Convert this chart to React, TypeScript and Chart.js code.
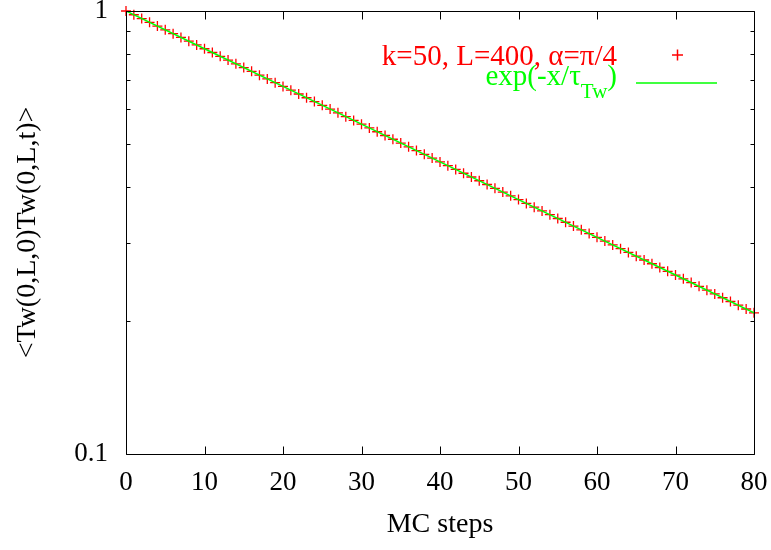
import React, { useEffect, useRef } from 'react';
import { Chart, registerables } from 'chart.js';

Chart.register(...registerables);

// ---- data ----
const mcSteps = [
  0, 1, 2, 3, 4, 5, 6, 7, 8, 9, 10, 11, 12, 13, 14, 15, 16, 17, 18, 19, 20,
  21, 22, 23, 24, 25, 26, 27, 28, 29, 30, 31, 32, 33, 34, 35, 36, 37, 38, 39, 40,
  41, 42, 43, 44, 45, 46, 47, 48, 49, 50, 51, 52, 53, 54, 55, 56, 57, 58, 59, 60,
  61, 62, 63, 64, 65, 66, 67, 68, 69, 70, 71, 72, 73, 74, 75, 76, 77, 78, 79, 80,
];
const correlation = [
  1.0, 0.9806, 0.9616, 0.9429, 0.9246, 0.9066, 0.889, 0.8717, 0.8548, 0.8382, 0.8219,
  0.806, 0.7903, 0.775, 0.7599, 0.7452, 0.7307, 0.7165, 0.7026, 0.689, 0.6756,
  0.6625, 0.6496, 0.637, 0.6246, 0.6125, 0.6006, 0.5889, 0.5775, 0.5663, 0.5553,
  0.5445, 0.5339, 0.5236, 0.5134, 0.5034, 0.4937, 0.4841, 0.4747, 0.4655, 0.4564,
  0.4476, 0.4389, 0.4303, 0.422, 0.4138, 0.4058, 0.3979, 0.3902, 0.3826, 0.3752,
  0.3679, 0.3607, 0.3537, 0.3469, 0.3401, 0.3335, 0.327, 0.3207, 0.3145, 0.3084,
  0.3024, 0.2965, 0.2907, 0.2851, 0.2796, 0.2741, 0.2688, 0.2636, 0.2585, 0.2535,
  0.2485, 0.2437, 0.239, 0.2343, 0.2298, 0.2253, 0.2209, 0.2167, 0.2125, 0.2083,
];
const fitSteps = [0, 10, 20, 30, 40, 50, 60, 70, 80];
const fitValues = [1.0, 0.8219, 0.6756, 0.5553, 0.4564, 0.3752, 0.3084, 0.2535, 0.2083];

const xTickValues = [0, 10, 20, 30, 40, 50, 60, 70, 80];
const yTickValues = [0.1, 0.2, 0.3, 0.4, 0.5, 0.6, 0.7, 0.8, 0.9, 1];
const yTickLabels = ['0.1', '', '', '', '', '', '', '', '', '1'];
const yMajorTicks = [0.1, 1];

const seriesLabel = 'k=50, L=400, α=π/4';
const fitLabelMain = 'exp(-x/τ';
const fitLabelSub = 'Tw';
const fitLabelEnd = ')';
const xTitle = 'MC steps';
const yTitle = '<Tw(0,L,0)Tw(0,L,t)>';

const RED = '#ff0000';
const GREEN = '#00ff00';
const FONT = '"Liberation Serif", "Times New Roman", serif';
const TICK_FS = 27;
const TITLE_FS = 28;
const LEGEND_FS = 29;
const SUB_FS = 21;

const framePlugin = {
  id: 'frame',
  afterDraw(chart: any) {
    const { ctx, chartArea } = chart;
    const { left, right, top, bottom } = chartArea;
    const xs = chart.scales.x;
    const ys = chart.scales.y;
    const L = Math.round(left) + 0.5;
    const R = Math.round(right) + 0.5;
    const T = Math.round(top) + 0.5;
    const B = Math.round(bottom) + 0.5;
    ctx.save();
    ctx.strokeStyle = '#000';
    ctx.lineWidth = 1;
    ctx.beginPath();
    ctx.moveTo(L, T);
    ctx.lineTo(R, T);
    ctx.lineTo(R, B);
    ctx.lineTo(L, B);
    ctx.closePath();
    ctx.stroke();
    ctx.beginPath();
    xTickValues.forEach((v) => {
      const px = Math.round(xs.getPixelForValue(v)) + 0.5;
      ctx.moveTo(px, B);
      ctx.lineTo(px, B - 8);
      ctx.moveTo(px, T);
      ctx.lineTo(px, T + 8);
    });
    yTickValues.forEach((v) => {
      const py = Math.round(ys.getPixelForValue(v)) + 0.5;
      const len = yMajorTicks.includes(v) ? 8 : 4;
      ctx.moveTo(L, py);
      ctx.lineTo(L + len, py);
      ctx.moveTo(R, py);
      ctx.lineTo(R - len, py);
    });
    ctx.stroke();

    // legend
    const textRight = 617;
    ctx.font = `${LEGEND_FS}px ${FONT}`;
    ctx.textAlign = 'right';
    ctx.textBaseline = 'alphabetic';
    ctx.fillStyle = RED;
    ctx.fillText(seriesLabel, textRight, 65);
    ctx.strokeStyle = RED;
    ctx.lineWidth = 1.5;
    ctx.beginPath();
    ctx.moveTo(672, 55);
    ctx.lineTo(683, 55);
    ctx.moveTo(677.5, 49.5);
    ctx.lineTo(677.5, 60.5);
    ctx.stroke();

    ctx.textAlign = 'left';
    ctx.font = `${LEGEND_FS}px ${FONT}`;
    const w1 = ctx.measureText(fitLabelMain).width;
    const w3 = ctx.measureText(fitLabelEnd).width;
    ctx.font = `${SUB_FS}px ${FONT}`;
    const w2 = ctx.measureText(fitLabelSub).width;
    const start = textRight - (w1 + w2 + w3);
    ctx.fillStyle = GREEN;
    ctx.font = `${LEGEND_FS}px ${FONT}`;
    ctx.fillText(fitLabelMain, start, 85);
    ctx.font = `${SUB_FS}px ${FONT}`;
    ctx.fillText(fitLabelSub, start + w1, 98);
    ctx.font = `${LEGEND_FS}px ${FONT}`;
    ctx.fillText(fitLabelEnd, start + w1 + w2, 85);
    ctx.strokeStyle = GREEN;
    ctx.lineWidth = 1.5;
    ctx.beginPath();
    ctx.moveTo(636, 83);
    ctx.lineTo(717, 83);
    ctx.stroke();
    ctx.restore();
  },
};

export default function App() {
  const canvasRef = useRef<HTMLCanvasElement | null>(null);

  useEffect(() => {
    const canvas = canvasRef.current;
    if (!canvas) return;
    const chart = new Chart(canvas, {
      type: 'scatter',
      data: {
        datasets: [
          {
            label: seriesLabel,
            data: mcSteps.map((x, i) => ({ x, y: correlation[i] })),
            showLine: false,
            pointStyle: 'cross',
            pointRadius: 5,
            pointHoverRadius: 5,
            borderColor: RED,
            backgroundColor: RED,
            pointBorderWidth: 1.3,
            borderWidth: 1.3,
            clip: false,
            order: 2,
          },
          {
            label: 'fit',
            data: fitSteps.map((x, i) => ({ x, y: fitValues[i] })),
            showLine: true,
            pointRadius: 0,
            borderColor: GREEN,
            backgroundColor: GREEN,
            borderWidth: 1.5,
            order: 1,
          },
        ],
      },
      options: {
        animation: false,
        responsive: false,
        devicePixelRatio: 1,
        layout: { padding: { top: 11, right: 17, left: 0, bottom: 0 } },
        plugins: {
          legend: { display: false },
          tooltip: { enabled: false },
        },
        scales: {
          x: {
            type: 'linear',
            min: 0,
            max: 80,
            afterBuildTicks: (s: any) => {
              s.ticks = xTickValues.map((v) => ({ value: v }));
            },
            afterFit: (s: any) => {
              s.height = 96;
              s.paddingLeft = 0;
              s.paddingRight = 0;
            },
            grid: { display: false, drawTicks: false },
            border: { display: false },
            ticks: {
              color: '#000',
              font: { family: FONT, size: TICK_FS },
              padding: 13,
              maxRotation: 0,
              autoSkip: false,
              callback: (v: any) => String(v),
            },
            title: {
              display: true,
              text: xTitle,
              color: '#000',
              font: { family: FONT, size: TITLE_FS },
              padding: { top: 0, bottom: 9 },
            },
          },
          y: {
            type: 'logarithmic',
            min: 0.1,
            max: 1,
            afterBuildTicks: (s: any) => {
              s.ticks = yTickValues.map((v) => ({ value: v, major: yMajorTicks.includes(v) }));
            },
            afterFit: (s: any) => {
              s.width = 126;
              s.paddingTop = 0;
              s.paddingBottom = 0;
            },
            grid: { display: false, drawTicks: false },
            border: { display: false },
            ticks: {
              color: '#000',
              font: { family: FONT, size: TICK_FS },
              padding: 18,
              autoSkip: false,
              callback: (_v: any, i: number) => yTickLabels[i],
            },
            title: {
              display: true,
              text: yTitle,
              color: '#000',
              font: { family: FONT, size: TITLE_FS },
              padding: { top: 11, bottom: 0 },
            },
          },
        },
      },
      plugins: [framePlugin],
    });
    return () => chart.destroy();
  }, []);

  return (
    <div style={{ position: 'absolute', left: 0, top: 0, width: 771, height: 550, background: '#fff' }}>
      <canvas ref={canvasRef} width={771} height={550} style={{ display: 'block' }} />
    </div>
  );
}
